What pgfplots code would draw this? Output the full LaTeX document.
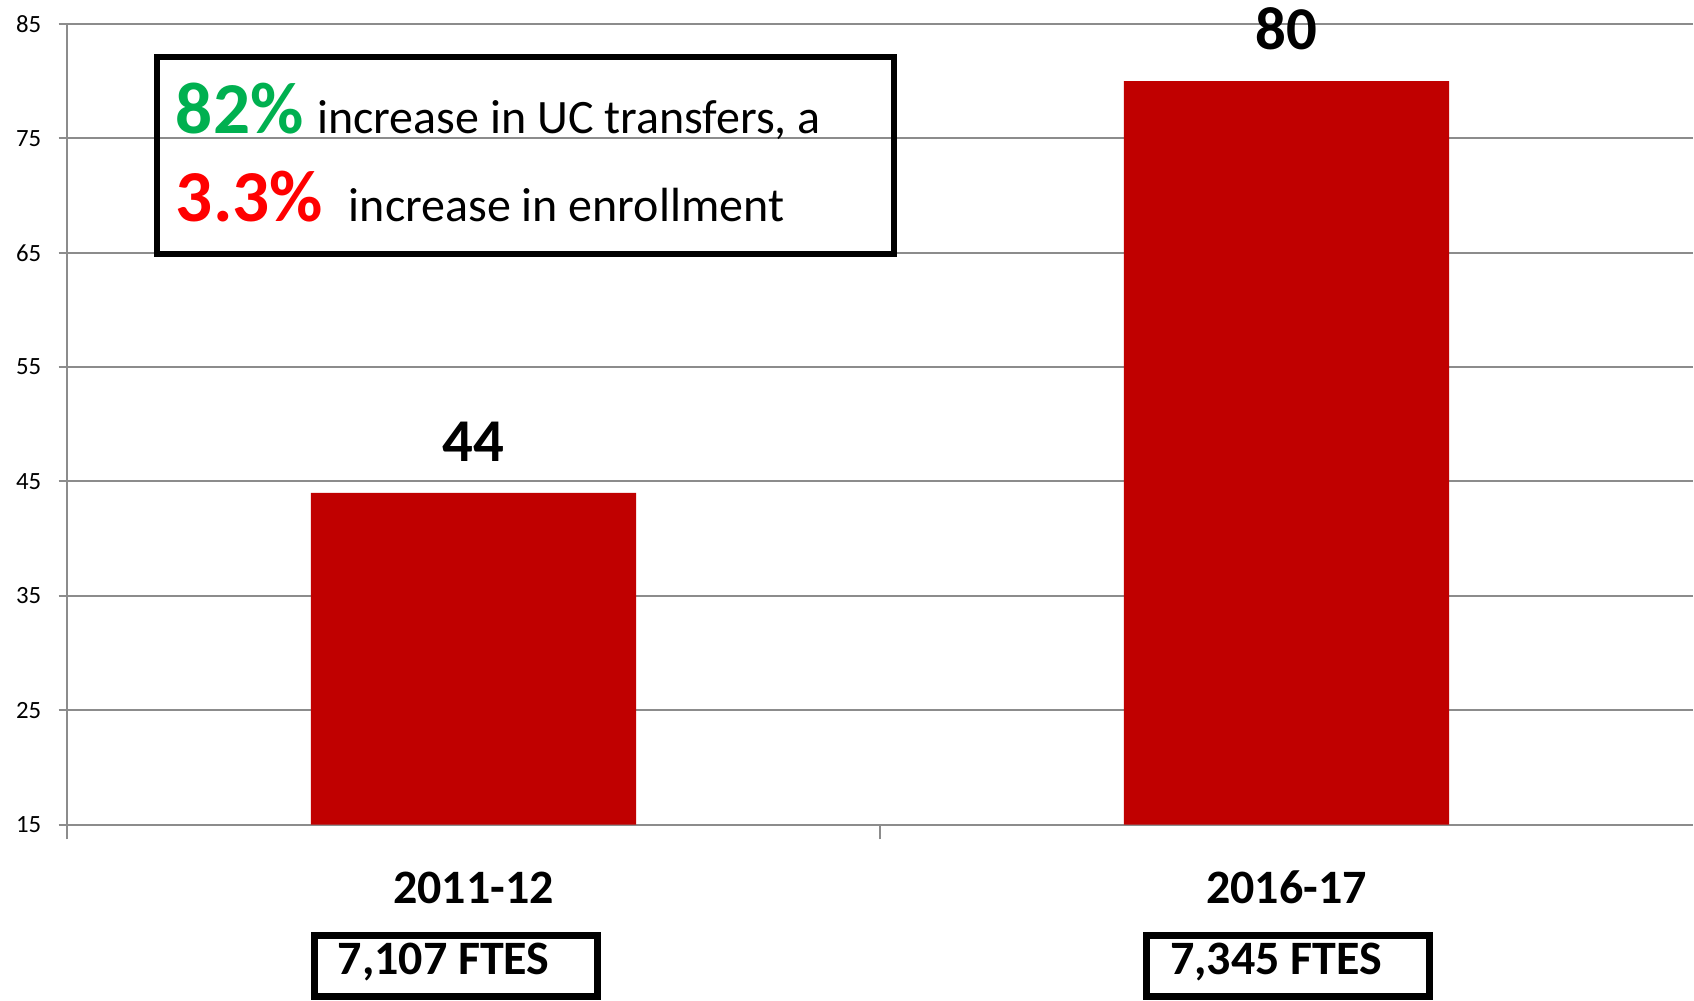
\documentclass[border=0pt]{standalone}
\usepackage{fontspec}
\setmainfont{Carlito}
\usepackage{pgfplots}
\pgfplotsset{compat=1.18}
\definecolor{barred}{HTML}{C00000}
\definecolor{gridgray}{HTML}{8C8C8C}
\definecolor{upgreen}{HTML}{00B050}
\definecolor{upred}{HTML}{FF0000}

\begin{document}
\begin{tikzpicture}
\begin{axis}[
    scale only axis,
    width=406.75pt, height=200.25pt,
    xmin=-0.5, xmax=1.5,
    ymin=15, ymax=85,
    ytick={15,25,...,85},
    xtick={0,1},
    xticklabels={2011-12,2016-17},
    minor xtick={-0.5,0.5},
    axis x line*=bottom,
    axis y line*=left,
    axis line style={gridgray, line width=0.5pt, -},
    tick align=outside,
    major tick length=2.1pt,
    minor tick length=3.75pt,
    every major x tick/.append style={draw=none},
    every minor x tick/.append style={draw=gridgray, line width=0.5pt},
    ytick style={draw=gridgray, line width=0.5pt},
    ymajorgrids=true,
    grid style={gridgray, line width=0.5pt},
    /pgf/number format/assume math mode=true,
    yticklabel style={font=\fontsize{6.2}{8}\selectfont, inner sep=0pt, xshift=-4.15pt},
    xticklabel style={font=\fontsize{12}{14}\selectfont\bfseries, anchor=base, yshift=-17.7pt},
    clip mode=individual,
    nodes near coords,
    every node near coord/.append style={font=\fontsize{15.2}{18}\selectfont\bfseries, text=black, anchor=south, inner sep=0pt, yshift=7.6pt},
]
\addplot[ybar, bar width=0.4, fill=barred, draw=none] coordinates {(0,44) (1,80)};

% annotation box
\draw[line width=1.5pt] (rel axis cs:0.0553,0.9588) rectangle (rel axis cs:0.5089,0.7129);
\node[anchor=base west, inner sep=0pt, font=\fontsize{12}{14}\selectfont] at (rel axis cs:0.0665,0.8627)
  {\textcolor{upgreen}{\fontsize{18.3}{22}\selectfont\bfseries 82\%}\hspace{3.5pt}increase in UC transfers, a};
\node[anchor=base west, inner sep=0pt, font=\fontsize{12}{14}\selectfont] at (rel axis cs:0.0665,0.7528)
  {\textcolor{upred}{\fontsize{18.3}{22}\selectfont\bfseries 3.3\%}\hspace{6.5pt}increase in enrollment};

% FTES boxes
\draw[line width=1.75pt] (rel axis cs:0.1524,-0.1392) rectangle (rel axis cs:0.3264,-0.2154);
\node[anchor=base west, inner sep=0pt, font=\fontsize{12}{14}\selectfont\bfseries] at (rel axis cs:0.166,-0.1873) {7,107 FTES};
\draw[line width=1.75pt] (rel axis cs:0.6638,-0.1392) rectangle (rel axis cs:0.8378,-0.2154);
\node[anchor=base west, inner sep=0pt, font=\fontsize{12}{14}\selectfont\bfseries] at (rel axis cs:0.678,-0.1873) {7,345 FTES};

\path (rel axis cs:-0.0412,1.03) rectangle (rel axis cs:1,-0.2197);
\end{axis}
\end{tikzpicture}
\end{document}
